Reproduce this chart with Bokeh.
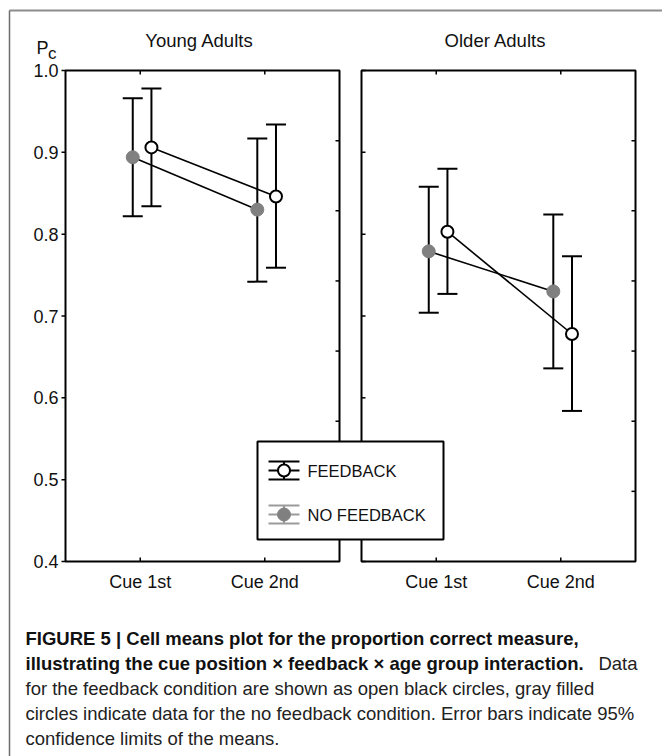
from bokeh.plotting import figure
from bokeh.models import Range1d
from bokeh.core.properties import value
from bokeh.embed import file_html
from bokeh.resources import INLINE

# ---------------- data ----------------
CUES = ["Cue 1st", "Cue 2nd"]
GROUPS = ["Young Adults", "Older Adults"]
Y_TICKS = [0.4, 0.5, 0.6, 0.7, 0.8, 0.9, 1.0]
Y_TICK_LABELS = ["0.4", "0.5", "0.6", "0.7", "0.8", "0.9", "1.0"]
RIGHT_TICKS = [1, 2, 3, 4, 5, 6]

young_fb_mean = [0.906, 0.846]
young_fb_lo = [0.834, 0.759]
young_fb_hi = [0.978, 0.934]
young_nofb_mean = [0.894, 0.830]
young_nofb_lo = [0.822, 0.742]
young_nofb_hi = [0.966, 0.917]

older_fb_mean = [0.803, 0.678]
older_fb_lo = [0.727, 0.584]
older_fb_hi = [0.880, 0.773]
older_nofb_mean = [0.779, 0.730]
older_nofb_lo = [0.704, 0.636]
older_nofb_hi = [0.858, 0.824]

LEGEND_LABELS = ["FEEDBACK", "NO FEEDBACK"]
Y_LABEL_MAIN = "P"
Y_LABEL_SUB = "c"

CAPTION_BOLD_1 = "FIGURE 5 | Cell means plot for the proportion correct measure,"
CAPTION_BOLD_2 = "illustrating the cue position \u00d7 feedback \u00d7 age group interaction."
CAPTION_REG_2 = "Data"
CAPTION_REG_LINES = [
    "for the feedback condition are shown as open black circles, gray filled",
    "circles indicate data for the no feedback condition. Error bars indicate 95%",
    "confidence limits of the means.",
]

SERIES = {
    "Young Adults": {
        "fb": (young_fb_mean, young_fb_lo, young_fb_hi),
        "nofb": (young_nofb_mean, young_nofb_lo, young_nofb_hi),
    },
    "Older Adults": {
        "fb": (older_fb_mean, older_fb_lo, older_fb_hi),
        "nofb": (older_nofb_mean, older_nofb_lo, older_nofb_hi),
    },
}

# ---------------- layout (page pixels) ----------------
W, H = 662, 756
PANEL_PX = {"Young Adults": (65, 339), "Older Adults": (361, 635)}
TOP_PX, BOT_PX = 70, 561
Y_LO, Y_HI = 0.4, 1.0
X_LO, X_HI = 1 - 0.6, len(CUES) + 0.6
R_LO, R_HI = 0, 7
OFF_NOFB, OFF_FB = -0.06, 0.09
FONT = value("Liberation Sans")
GRAY_FILL = "#808080"
GRAY_LINE = "#9a9a9a"
INK = "#111111"


def page_range(d0, d1, p0, p1, q_start, q_end):
    k = (d1 - d0) / (p1 - p0)
    return Range1d(start=d0 + (q_start - p0) * k, end=d0 + (q_end - p0) * k)


p = figure(width=W, height=H, x_range=Range1d(0, W), y_range=Range1d(H, 0),
           x_axis_type=None, y_axis_type=None, toolbar_location=None,
           output_backend="svg", min_border=0, outline_line_color=None,
           background_fill_color="white", border_fill_color="white")
p.min_border_left = p.min_border_right = p.min_border_top = p.min_border_bottom = 0

extra_x = {}
for g in GROUPS:
    l, r = PANEL_PX[g]
    extra_x["x_" + g] = page_range(X_LO, X_HI, l, r, 0, W)
p.extra_x_ranges = extra_x
# y ranges: start corresponds to the bottom of the canvas (page y = H)
p.extra_y_ranges = {
    "yP": page_range(Y_HI, Y_LO, TOP_PX, BOT_PX, H, 0),
    "yR": page_range(R_HI, R_LO, TOP_PX, BOT_PX, H, 0),
}

# page frame (gray)
p.segment(x0=[9], y0=[10], x1=[W], y1=[10], line_color="#8c8c8c", line_width=2)
p.segment(x0=[9], y0=[10], x1=[9], y1=[H], line_color="#6e6e6e", line_width=1.5)

# y-axis title P_c
p.text(x=[36], y=[47], text=[Y_LABEL_MAIN], text_font=FONT, text_font_size="18px",
       text_align="left", text_baseline="alphabetic", text_color=INK)
p.text(x=[47.5], y=[53], text=[Y_LABEL_SUB], text_font=FONT, text_font_size="17px",
       text_align="left", text_baseline="alphabetic", text_color=INK)

cat_x = [i + 1 for i in range(len(CUES))]

for gi, g in enumerate(GROUPS):
    xr = "x_" + g
    l, r = PANEL_PX[g]
    # panel box
    p.quad(left=[X_LO], right=[X_HI], bottom=[Y_LO], top=[Y_HI], x_range_name=xr,
           y_range_name="yP", fill_color=None, line_color="black", line_width=2)
    # top and bottom ticks (inward)
    p.segment(x0=cat_x, x1=cat_x, y0=[TOP_PX] * len(cat_x), y1=[TOP_PX + 4] * len(cat_x),
              x_range_name=xr, line_color="black", line_width=1.5)
    p.segment(x0=cat_x, x1=cat_x, y0=[BOT_PX] * len(cat_x), y1=[BOT_PX - 4] * len(cat_x),
              x_range_name=xr, line_color="black", line_width=1.5)
    # left ticks
    if gi == 0:
        p.segment(x0=[l - 4] * len(Y_TICKS), x1=[l] * len(Y_TICKS), y0=Y_TICKS, y1=Y_TICKS,
                  y_range_name="yP", line_color="black", line_width=1.5)
        p.text(x=[l - 7] * len(Y_TICKS), y=Y_TICKS, text=Y_TICK_LABELS, y_range_name="yP",
               text_font=FONT, text_font_size="18px", text_align="right",
               text_baseline="middle", text_color=INK)
    else:
        p.segment(x0=[l] * len(Y_TICKS), x1=[l + 4] * len(Y_TICKS), y0=Y_TICKS, y1=Y_TICKS,
                  y_range_name="yP", line_color="black", line_width=1.5)
    # right ticks (inward)
    p.segment(x0=[r - 4] * len(RIGHT_TICKS), x1=[r] * len(RIGHT_TICKS), y0=RIGHT_TICKS,
              y1=RIGHT_TICKS, y_range_name="yR", line_color="black", line_width=1.5)
    # category labels
    p.text(x=cat_x, y=[BOT_PX + 20] * len(cat_x), text=CUES, x_range_name=xr,
           text_font=FONT, text_font_size="18px", text_align="center",
           text_baseline="middle", text_color=INK)
    # panel title
    p.text(x=[(l + r) / 2 - 3], y=[40], text=[g], text_font=FONT, text_font_size="18.5px",
           text_align="center", text_baseline="middle", text_color=INK)

    fb_mean, fb_lo, fb_hi = SERIES[g]["fb"]
    nf_mean, nf_lo, nf_hi = SERIES[g]["nofb"]
    x_fb = [c + OFF_FB for c in cat_x]
    x_nf = [c + OFF_NOFB for c in cat_x]

    # error bars
    for xs, lo, hi in ((x_nf, nf_lo, nf_hi), (x_fb, fb_lo, fb_hi)):
        p.segment(x0=xs, x1=xs, y0=lo, y1=hi, x_range_name=xr, y_range_name="yP",
                  line_color="black", line_width=2)
        p.scatter(x=xs + xs, y=lo + hi, marker="dash", size=20, x_range_name=xr,
                  y_range_name="yP", line_color="black", line_width=2)
    # connecting lines
    p.line(x=x_nf, y=nf_mean, x_range_name=xr, y_range_name="yP", line_color="black",
           line_width=1.6)
    p.line(x=x_fb, y=fb_mean, x_range_name=xr, y_range_name="yP", line_color="black",
           line_width=1.6)
    # markers
    p.scatter(x=x_nf, y=nf_mean, size=13, x_range_name=xr, y_range_name="yP",
              fill_color=GRAY_FILL, line_color=GRAY_FILL, line_width=1)
    p.scatter(x=x_fb, y=fb_mean, size=12, x_range_name=xr, y_range_name="yP",
              fill_color="white", line_color="black", line_width=2)

# legend (page pixels)
p.quad(left=[257], right=[443], top=[441], bottom=[539], fill_color="white",
       line_color="black", line_width=2)
leg_rows = [470, 514]
sx0, sx1 = 268, 299
sxc = (sx0 + sx1) / 2
for lab, yc, lc in zip(LEGEND_LABELS, leg_rows, ["black", GRAY_LINE]):
    p.segment(x0=[sx0, sx0, sx0, sxc], x1=[sx1, sx1, sx1, sxc],
              y0=[yc - 9, yc, yc + 9, yc - 9], y1=[yc - 9, yc, yc + 9, yc + 9],
              line_color=lc, line_width=2)
    if lab == LEGEND_LABELS[0]:
        p.scatter(x=[sxc], y=[yc], size=12, fill_color="white", line_color="black",
                  line_width=2)
    else:
        p.scatter(x=[sxc], y=[yc], size=13, fill_color=GRAY_FILL, line_color=GRAY_FILL)
    p.text(x=[307], y=[yc], text=[lab], text_font=FONT, text_font_size="16.5px",
           text_align="left", text_baseline="middle", text_color=INK)

# caption
cap_y = [638, 663, 688, 713, 738]
p.text(x=[25], y=[cap_y[0]], text=[CAPTION_BOLD_1], text_font=FONT, text_font_size="18.5px",
       text_font_style="bold", text_align="left", text_baseline="middle", text_color=INK)
p.text(x=[25], y=[cap_y[1]], text=[CAPTION_BOLD_2], text_font=FONT, text_font_size="18.5px",
       text_font_style="bold", text_align="left", text_baseline="middle", text_color=INK)
p.text(x=[637], y=[cap_y[1]], text=[CAPTION_REG_2], text_font=FONT, text_font_size="18.5px",
       text_align="right", text_baseline="middle", text_color="#222222")
p.text(x=[25] * len(CAPTION_REG_LINES), y=cap_y[2:], text=CAPTION_REG_LINES, text_font=FONT,
       text_font_size="18.5px", text_align="left", text_baseline="middle", text_color="#222222")

open("out.html", "w").write(file_html(p, INLINE))
